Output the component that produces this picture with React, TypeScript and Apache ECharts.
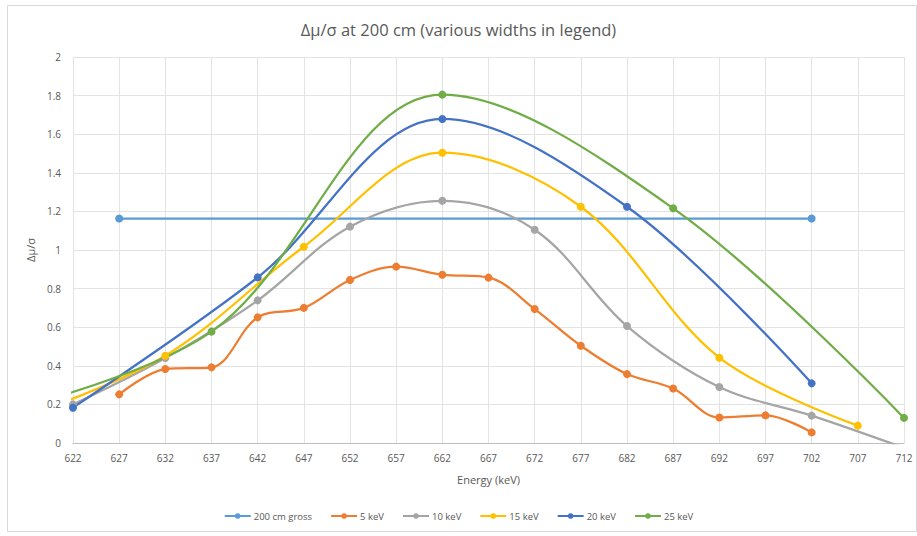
import React, { useEffect, useRef } from "react";
import * as echarts from "echarts";

const TITLE = "Δμ/σ at 200 cm (various widths in legend)";
const X_NAME = "Energy (keV)";
const Y_NAME = "Δμ/σ";

const grossX = [627, 702];
const grossY = [1.163, 1.163];

const kev5X = [627, 632, 637, 642, 647, 652, 657, 662, 667, 672, 677, 682, 687, 692, 697, 702];
const kev5Y = [0.252, 0.383, 0.392, 0.651, 0.70, 0.845, 0.914, 0.872, 0.857, 0.694, 0.504, 0.357, 0.282, 0.132, 0.143, 0.055];

const kev10X = [622, 632, 642, 652, 662, 672, 682, 692, 702, 712];
const kev10Y = [0.2, 0.44, 0.739, 1.121, 1.255, 1.105, 0.606, 0.29, 0.142, -0.025];

const kev15X = [617, 632, 647, 662, 677, 692, 707];
const kev15Y = [0.14, 0.452, 1.017, 1.504, 1.224, 0.442, 0.09];

const kev20X = [622, 642, 662, 682, 702];
const kev20Y = [0.183, 0.858, 1.679, 1.224, 0.309];

const kev25X = [612, 637, 662, 687, 712];
const kev25Y = [0.13, 0.577, 1.805, 1.216, 0.13];

const SERIES_NAMES = ["200 cm gross", "5 keV", "10 keV", "15 keV", "20 keV", "25 keV"];
const COLORS = ["#5B9BD5", "#ED7D31", "#A5A5A5", "#FFC000", "#4472C4", "#70AD47"];

const zip = (xs: number[], ys: number[]) => xs.map((x, i) => [x, ys[i]]);

export default function App() {
  const ref = useRef<HTMLDivElement>(null);
  useEffect(() => {
    document.body.style.margin = "0";
    const chart = echarts.init(ref.current!, null, { renderer: "svg" });
    const font = "Open Sans";
    const datasets = [
      zip(grossX, grossY),
      zip(kev5X, kev5Y),
      zip(kev10X, kev10Y),
      zip(kev15X, kev15Y),
      zip(kev20X, kev20Y),
      zip(kev25X, kev25Y),
    ];
    chart.setOption({
      animation: false,
      backgroundColor: "#ffffff",
      textStyle: { fontFamily: font },
      title: {
        text: TITLE,
        left: "center",
        top: 16,
        textStyle: { fontSize: 16.5, fontWeight: "normal", color: "#595959", fontFamily: font },
      },
      graphic: [
        {
          type: "rect",
          shape: { x: 7.5, y: 5.5, width: 909, height: 526 },
          style: { fill: "none", stroke: "#d9d9d9", lineWidth: 1 },
          silent: true,
        },
      ],
      legend: {
        bottom: 10,
        left: "center",
        itemWidth: 26,
        itemHeight: 7,
        itemGap: 18,
        data: SERIES_NAMES,
        textStyle: { fontSize: 9.5, color: "#595959", fontFamily: font, padding: [0, 0, 0, -2] },
      },
      grid: { left: 73, right: 13, top: 57, bottom: 93, containLabel: false },
      xAxis: {
        type: "value",
        min: 622,
        max: 712,
        interval: 5,
        name: X_NAME,
        nameLocation: "middle",
        nameGap: 31,
        nameTextStyle: { fontSize: 11, color: "#595959" },
        axisLine: { show: true, lineStyle: { color: "#bfbfbf" } },
        axisTick: { show: false },
        axisLabel: { fontSize: 10, color: "#595959", margin: 10 },
        splitLine: { show: true, lineStyle: { color: "#e3e3e3" } },
      },
      yAxis: {
        type: "value",
        min: 0,
        max: 2,
        interval: 0.2,
        name: Y_NAME,
        nameLocation: "middle",
        nameGap: 37,
        nameTextStyle: { fontSize: 11, color: "#595959" },
        axisLine: { show: false },
        axisTick: { show: false },
        axisLabel: { fontSize: 10, color: "#595959", margin: 12 },
        splitLine: { show: true, lineStyle: { color: "#e3e3e3" } },
      },
      series: datasets.map((d, i) => ({
        name: SERIES_NAMES[i],
        type: "line",
        data: d,
        smooth: i === 0 ? false : 0.35,
        clip: true,
        symbol: "circle",
        symbolSize: 8,
        showAllSymbol: true,
        lineStyle: { width: 2.25, color: COLORS[i] },
        itemStyle: { color: COLORS[i] },
        emphasis: { disabled: true },
      })),
    });
    return () => chart.dispose();
  }, []);
  return <div ref={ref} style={{ width: 917, height: 536 }} />;
}
